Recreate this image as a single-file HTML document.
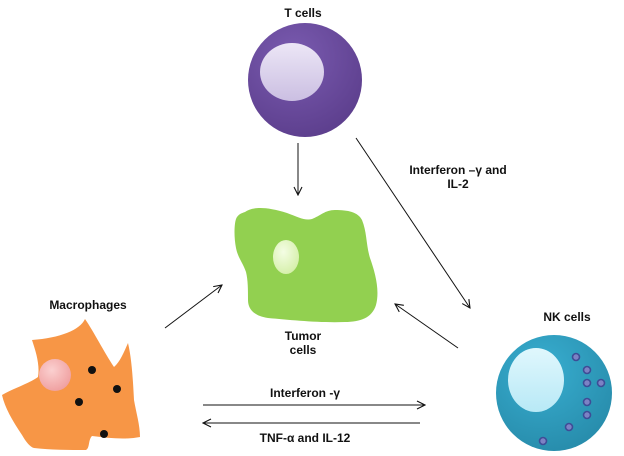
<!DOCTYPE html>
<html>
<head>
<meta charset="utf-8">
<style>
html,body{margin:0;padding:0;background:#fff;}
svg{display:block;}
text{font-family:"Liberation Sans",Arial,sans-serif;font-weight:bold;font-size:12px;fill:#111;}
</style>
</head>
<body>
<svg width="624" height="456" viewBox="0 0 624 456" xmlns="http://www.w3.org/2000/svg">
<defs>
<radialGradient id="tg" cx="0.4" cy="0.3" r="0.8">
<stop offset="0" stop-color="#7a5bb0"/>
<stop offset="1" stop-color="#5a3c8a"/>
</radialGradient>
<linearGradient id="tn" x1="0" y1="0" x2="0" y2="1">
<stop offset="0" stop-color="#ece6f6"/>
<stop offset="1" stop-color="#cbbfe2"/>
</linearGradient>
<radialGradient id="ng" cx="0.4" cy="0.3" r="0.8">
<stop offset="0" stop-color="#38aed0"/>
<stop offset="1" stop-color="#2689a8"/>
</radialGradient>
<linearGradient id="nn" x1="0" y1="0" x2="0" y2="1">
<stop offset="0" stop-color="#e0f7fd"/>
<stop offset="1" stop-color="#b8e9f6"/>
</linearGradient>
<radialGradient id="gn" cx="0.4" cy="0.35" r="0.7">
<stop offset="0" stop-color="#f4fde4"/>
<stop offset="1" stop-color="#d4efa8"/>
</radialGradient>
<radialGradient id="pn" cx="0.4" cy="0.35" r="0.7">
<stop offset="0" stop-color="#fbd0d0"/>
<stop offset="1" stop-color="#ef9e9e"/>
</radialGradient>
<marker id="ah" markerWidth="10" markerHeight="10" refX="9" refY="5" orient="auto" markerUnits="userSpaceOnUse">
<path d="M1,1 L9,5 L1,9" fill="none" stroke="#111" stroke-width="1.1"/>
</marker>
</defs>

<!-- T cell -->
<text x="303" y="17" text-anchor="middle">T cells</text>
<circle cx="305" cy="80" r="57" fill="url(#tg)"/>
<ellipse cx="292" cy="72" rx="32" ry="29" fill="url(#tn)"/>

<!-- arrows -->
<line x1="298" y1="143" x2="298" y2="195" stroke="#111" stroke-width="1" marker-end="url(#ah)"/>
<line x1="356" y1="138" x2="470" y2="308" stroke="#111" stroke-width="1" marker-end="url(#ah)"/>
<line x1="458" y1="348" x2="395" y2="304" stroke="#111" stroke-width="1" marker-end="url(#ah)"/>
<line x1="165" y1="328" x2="222" y2="285" stroke="#111" stroke-width="1" marker-end="url(#ah)"/>
<line x1="203" y1="405" x2="425" y2="405" stroke="#111" stroke-width="1" marker-end="url(#ah)"/>
<line x1="420" y1="423" x2="203" y2="423" stroke="#111" stroke-width="1" marker-end="url(#ah)"/>

<text x="458" y="174" text-anchor="middle">Interferon –γ and</text>
<text x="458" y="188" text-anchor="middle">IL-2</text>
<text x="305" y="397" text-anchor="middle">Interferon -γ</text>
<text x="305" y="442" text-anchor="middle">TNF-α and IL-12</text>

<!-- Tumor -->
<path d="M245,212 C252,207 265,206 287,213 C298,217 305,221 312,219 C320,216 325,210 335,210 C348,210 358,212 362,220 C367,232 366,245 370,258 C375,272 380,290 376,305 C372,318 360,322 345,322 C320,323 290,320 268,318 C255,316 248,310 248,300 C248,290 248,280 246,272 C243,263 238,258 236,248 C234,238 234,225 236,219 C238,214 242,213 245,212 Z" fill="#92d050"/>
<ellipse cx="286" cy="257" rx="13" ry="17" fill="url(#gn)"/>
<text x="303" y="340" text-anchor="middle">Tumor</text>
<text x="303" y="354" text-anchor="middle">cells</text>

<!-- Macrophage -->
<text x="88" y="309" text-anchor="middle">Macrophages</text>
<path d="M85,319 C80,330 60,338 32,340 C36,352 40,365 38,377 C28,384 14,388 2,395 C5,408 12,420 22,435 C26,442 30,447 34,448 C50,450 70,450 86,450 C90,448 88,440 92,436 C108,438 125,440 140,437 C140,425 136,412 134,400 C133,382 132,360 128,343 C124,352 120,362 114,367 C104,352 94,332 85,319 Z" fill="#f79646"/>
<circle cx="55" cy="375" r="16" fill="url(#pn)"/>
<circle cx="92" cy="370" r="4" fill="#111"/>
<circle cx="117" cy="389" r="4" fill="#111"/>
<circle cx="79" cy="402" r="4" fill="#111"/>
<circle cx="104" cy="434" r="4" fill="#111"/>

<!-- NK cell -->
<text x="567" y="321" text-anchor="middle">NK cells</text>
<circle cx="554" cy="393" r="58" fill="url(#ng)"/>
<ellipse cx="536" cy="380" rx="28" ry="32" fill="url(#nn)"/>
<g fill="#7d82c4" stroke="#3e4c96" stroke-width="1.6">
<circle cx="576" cy="357" r="3.5"/>
<circle cx="587" cy="370" r="3.5"/>
<circle cx="587" cy="383" r="3.5"/>
<circle cx="601" cy="383" r="3.5"/>
<circle cx="587" cy="402" r="3.5"/>
<circle cx="587" cy="415" r="3.5"/>
<circle cx="569" cy="427" r="3.5"/>
<circle cx="543" cy="441" r="3.5"/>
</g>
</svg>
</body>
</html>
